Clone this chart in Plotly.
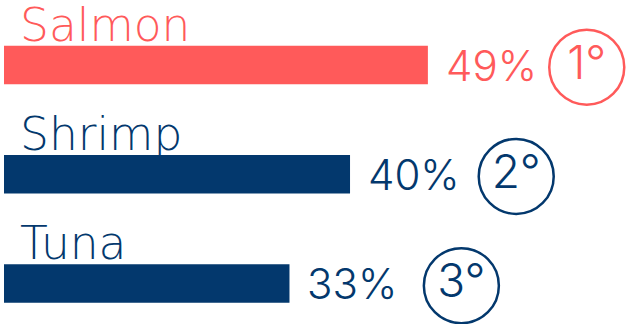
import plotly.graph_objects as go

categories = ["Salmon", "Shrimp", "Tuna"]
values = [49, 40, 33]
value_labels = ["49%", "40%", "33%"]
rank_labels = ["1°", "2°", "3°"]
colors = ["#FF5A5A", "#03386D", "#03386D"]

FONT = "Inter"
CAT_FONT = "DejaVu Sans"
ypos = list(range(len(categories)))
bar_w = 0.352

fig = go.Figure()
fig.add_trace(go.Bar(
    x=values, y=ypos, orientation="h", width=bar_w,
    marker=dict(color=colors, line=dict(width=0)),
    hoverinfo="skip",
))

# rank circles positioned relative to each bar's value
circle_x = [22.97 + 0.906 * v for v in values]
fig.add_trace(go.Scatter(
    x=circle_x, y=[y + 0.02 for y in ypos], mode="markers+text",
    marker=dict(symbol="circle-open", size=75, color=colors,
                line=dict(width=2.5, color=colors)),
    text=rank_labels, textposition="middle center",
    textfont=dict(family=FONT, size=46, color=colors, weight=300),
    hoverinfo="skip",
))

annotations = []
for i, (cat, v, lab, c) in enumerate(zip(categories, values, value_labels, colors)):
    annotations.append(dict(
        x=0, y=i - bar_w / 2, xref="x", yref="y", text=cat,
        xanchor="left", yanchor="bottom", showarrow=False,
        xshift=14, yshift=-8,
        font=dict(family=CAT_FONT, size=45.5, color=c, weight=200),
    ))
    annotations.append(dict(
        x=v, y=i, xref="x", yref="y", text=lab,
        xanchor="left", yanchor="middle", showarrow=False,
        xshift=16, yshift=0,
        font=dict(family=FONT, size=42, color=c, weight=300),
    ))

fig.update_layout(
    width=626, height=324,
    margin=dict(l=0, r=0, t=0, b=0),
    paper_bgcolor="white", plot_bgcolor="white",
    showlegend=False, hovermode=False,
    xaxis=dict(range=[-0.462, 71.9], visible=False, fixedrange=True),
    yaxis=dict(range=[2.371, -0.595], visible=False, fixedrange=True),
    annotations=annotations,
)

fig.write_html("out.html", config={"displayModeBar": False})
